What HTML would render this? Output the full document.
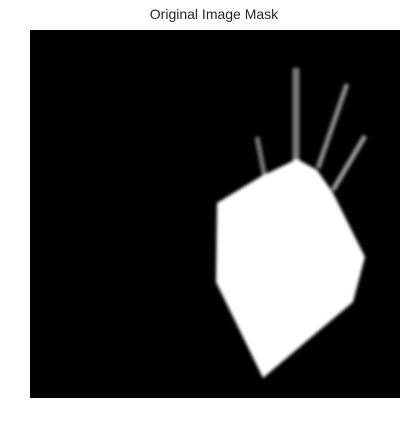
<!DOCTYPE html>
<html><head><meta charset="utf-8"><style>
body{margin:0;background:#fff;width:409px;height:426px;overflow:hidden;font-family:"Liberation Sans",sans-serif}
</style></head><body>
<svg width="409" height="426">
<defs><filter id="b" x="-20%" y="-20%" width="140%" height="140%"><feGaussianBlur stdDeviation="1.6"/></filter></defs>
<text x="214" y="19" text-anchor="middle" font-size="14" fill="#262626">Original Image Mask</text>
<rect x="30" y="30" width="370" height="368" fill="#000"/>
<g filter="url(#b)">
<line x1="296" y1="68" x2="296" y2="162" stroke="#7a7a7a" stroke-width="7"/>
<line x1="347" y1="84" x2="318" y2="168" stroke="#8a8a8a" stroke-width="5"/>
<line x1="365" y1="136" x2="333" y2="190" stroke="#999" stroke-width="5"/>
<line x1="257" y1="137" x2="265" y2="178" stroke="#777" stroke-width="5"/>
<polygon points="297,159 317,170 333,193 365,257 353,302 263,378 216,282 217,203 260,177" fill="#fff"/>
</g>
</svg>
</body></html>
